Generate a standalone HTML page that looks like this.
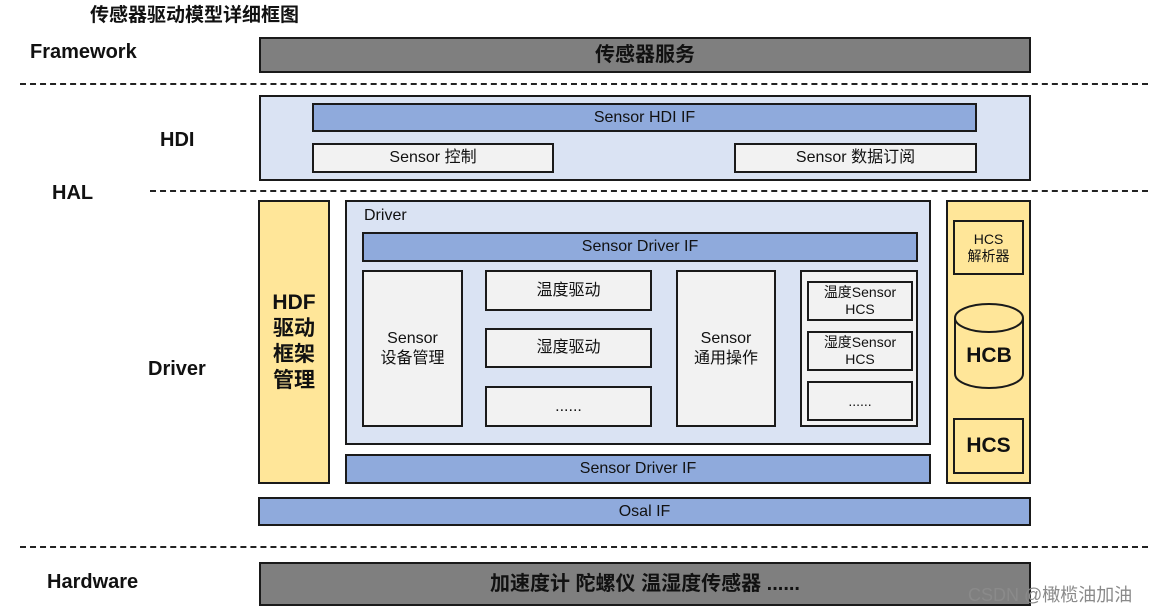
<!DOCTYPE html>
<html><head><meta charset="utf-8"><style>
body{margin:0;width:1171px;height:614px;background:#fff;position:relative;overflow:hidden;font-family:"Liberation Sans","Noto Sans CJK SC",sans-serif;}
.b{position:absolute;box-sizing:border-box;border:2px solid #1a1a1a;display:flex;align-items:center;justify-content:center;text-align:center;color:#111;font-size:16px;line-height:1.2;}
.t{position:absolute;font-weight:bold;color:#111;font-size:20px;}
.d{position:absolute;border-top:2px dashed #222;height:0;}
.blue{background:#8faadc;}
.lb{background:#dae3f3;}
.g{background:#f2f2f2;}
.y{background:#ffe699;}
.gr{background:#7f7f7f;}
</style></head><body>
<div class="t" style="left:90px;top:0px;font-size:19px;">传感器驱动模型详细框图</div>
<div class="t" style="left:30px;top:41px;">Framework</div>
<div class="b gr" style="left:259px;top:37px;width:772px;height:36px;font-size:20px;font-weight:bold;">传感器服务</div>
<div class="d" style="left:20px;top:83px;width:1128px;"></div>
<div class="b lb" style="left:259px;top:95px;width:772px;height:86px;"></div>
<div class="b blue" style="left:312px;top:103px;width:665px;height:29px;">Sensor HDI IF</div>
<div class="b g" style="left:312px;top:143px;width:242px;height:30px;">Sensor 控制</div>
<div class="b g" style="left:734px;top:143px;width:243px;height:30px;">Sensor 数据订阅</div>
<div class="t" style="left:160px;top:129px;">HDI</div>
<div class="t" style="left:52px;top:182px;">HAL</div>
<div class="d" style="left:150px;top:190px;width:998px;"></div>
<div class="b y" style="left:258px;top:200px;width:72px;height:284px;font-size:21px;font-weight:bold;line-height:1.25;">HDF<br>驱动<br>框架<br>管理</div>
<div class="b lb" style="left:345px;top:200px;width:586px;height:245px;"></div>
<div style="position:absolute;left:364px;top:207px;font-size:16px;color:#111;">Driver</div>
<div class="b blue" style="left:362px;top:232px;width:556px;height:30px;">Sensor Driver IF</div>
<div class="b g" style="left:362px;top:270px;width:101px;height:157px;">Sensor<br>设备管理</div>
<div class="b g" style="left:485px;top:270px;width:167px;height:41px;">温度驱动</div>
<div class="b g" style="left:485px;top:328px;width:167px;height:40px;">湿度驱动</div>
<div class="b g" style="left:485px;top:386px;width:167px;height:41px;">......</div>
<div class="b g" style="left:676px;top:270px;width:100px;height:157px;">Sensor<br>通用操作</div>
<div class="b g" style="left:800px;top:270px;width:118px;height:157px;"></div>
<div class="b g" style="left:807px;top:281px;width:106px;height:40px;font-size:14px;line-height:1.25;">温度Sensor<br>HCS</div>
<div class="b g" style="left:807px;top:331px;width:106px;height:40px;font-size:14px;line-height:1.25;">湿度Sensor<br>HCS</div>
<div class="b g" style="left:807px;top:381px;width:106px;height:40px;font-size:14px;">......</div>
<div class="b blue" style="left:345px;top:454px;width:586px;height:30px;">Sensor Driver IF</div>
<div class="b y" style="left:946px;top:200px;width:85px;height:284px;"></div>
<div class="b y" style="left:953px;top:220px;width:71px;height:55px;font-size:14px;">HCS<br>解析器</div>
<svg style="position:absolute;left:953px;top:302px;" width="72" height="90">
<path d="M2,16 L2,72 A34,14 0 0 0 70,72 L70,16" fill="#ffe699" stroke="#1a1a1a" stroke-width="2"/>
<ellipse cx="36" cy="16" rx="34" ry="14" fill="#ffe699" stroke="#1a1a1a" stroke-width="2"/>
<text x="36" y="60" text-anchor="middle" font-size="21" font-weight="bold" font-family="Liberation Sans,sans-serif" fill="#111">HCB</text>
</svg>
<div class="b y" style="left:953px;top:418px;width:71px;height:56px;font-size:21px;font-weight:bold;">HCS</div>
<div class="t" style="left:148px;top:358px;">Driver</div>
<div class="b blue" style="left:258px;top:497px;width:773px;height:29px;">Osal IF</div>
<div class="d" style="left:20px;top:546px;width:1128px;"></div>
<div class="t" style="left:47px;top:571px;">Hardware</div>
<div class="b gr" style="left:259px;top:562px;width:772px;height:44px;font-size:20px;font-weight:bold;">加速度计 陀螺仪 温湿度传感器 ......</div>
<div style="position:absolute;left:968px;top:581px;font-size:18px;color:#8a8a8a;">CSDN @橄榄油加油</div>
</body></html>
